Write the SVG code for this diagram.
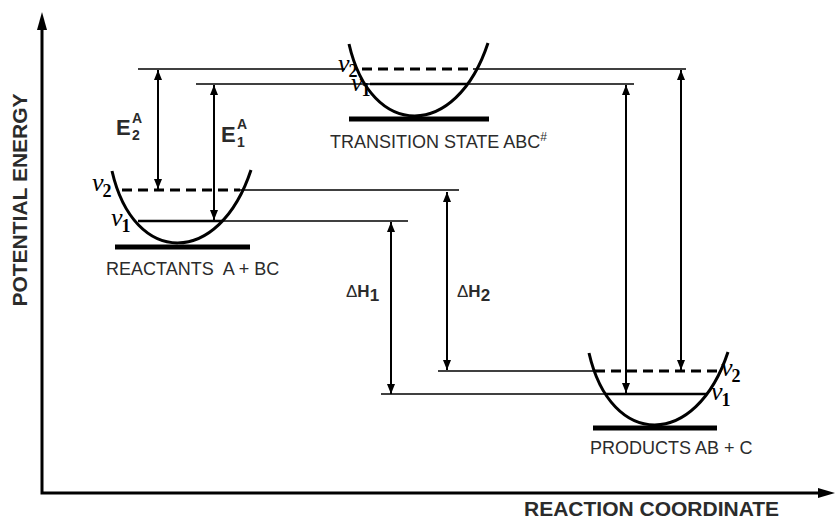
<svg xmlns="http://www.w3.org/2000/svg" width="836" height="519" viewBox="0 0 836 519">
<style>
.bowl{fill:none;stroke:#000;stroke-width:3}
.base{stroke:#000;stroke-width:5}
.lvl{stroke:#000;stroke-width:1.5}
.v1{stroke:#000;stroke-width:2.5}
.v2{stroke:#000;stroke-width:3;stroke-dasharray:10 6}
.conn{stroke:#000;stroke-width:2;fill:none;marker-start:url(#ah);marker-end:url(#ah)}
.axis{stroke:#000;stroke-width:3;fill:none}
.lbl{font-family:"Liberation Sans",Arial,sans-serif;font-size:18px;fill:#2b2b2b;white-space:pre}
.ax{font-family:"Liberation Sans",Arial,sans-serif;font-size:21px;font-weight:bold;fill:#2b2b2b}
.nu{font-family:"Liberation Serif","Times New Roman",serif;font-size:26px;font-style:italic;fill:#000}
.sub{font-family:"Liberation Serif","Times New Roman",serif;font-size:18px;font-weight:bold;fill:#000}
.e{font-family:"Liberation Sans",Arial,sans-serif;font-weight:bold;fill:#2b2b2b}
</style>
<defs>
<marker id="ah" markerUnits="userSpaceOnUse" markerWidth="12" markerHeight="10" refX="10" refY="4" orient="auto-start-reverse">
<path d="M0,0 L10,4 L0,8 Z" fill="#000"/>
</marker>
<path id="bowl" class="bowl" d="M-66,-72 C-44,24 41,24 73,-73"/>
</defs>

<g id="axes">
<path class="axis" d="M42,28 V493 H820"/>
<path d="M42,12 L37,30 L47,30 Z" fill="#000"/>
<path d="M835,493 L818,488 L818,498 Z" fill="#000"/>
<text class="ax" transform="translate(27,200) rotate(-90)" text-anchor="middle" font-size="22">POTENTIAL ENERGY</text>
<text class="ax" x="524" y="516">REACTION COORDINATE</text>
</g>

<g id="reactants">
<use href="#bowl" x="178" y="243"/>
<line class="base" x1="115" y1="247" x2="250" y2="247"/>
<line class="v2" x1="122" y1="190" x2="240" y2="190"/>
<line class="v1" x1="138" y1="221" x2="222" y2="221"/>
<line class="lvl" x1="240" y1="190" x2="459" y2="190"/>
<line class="lvl" x1="222" y1="221" x2="408" y2="221"/>
<text x="92" y="191"><tspan class="nu">ν</tspan><tspan class="sub" dx="-1" dy="6">2</tspan></text>
<text x="111" y="226"><tspan class="nu">ν</tspan><tspan class="sub" dx="-1" dy="6">1</tspan></text>
<text class="lbl" x="106" y="275" xml:space="preserve">REACTANTS  A + BC</text>
</g>

<g id="transition">
<use href="#bowl" x="415" y="116"/>
<line class="base" x1="349" y1="119" x2="489" y2="119"/>
<line class="lvl" x1="138" y1="69" x2="345" y2="69"/>
<line class="v2" x1="362" y1="69" x2="473" y2="69"/>
<line class="lvl" x1="473" y1="69" x2="686" y2="69"/>
<line class="lvl" x1="196" y1="84" x2="370" y2="84"/>
<line class="v1" x1="370" y1="84" x2="467" y2="84"/>
<line class="lvl" x1="467" y1="84" x2="634" y2="84"/>
<text x="338" y="72"><tspan class="nu" font-size="25">ν</tspan><tspan class="sub" dx="-1" dy="5">2</tspan></text>
<text x="351" y="91"><tspan class="nu" font-size="25">ν</tspan><tspan class="sub" dx="-1" dy="5">1</tspan></text>
<text class="lbl" x="330" y="148">TRANSITION STATE ABC<tspan font-size="12" dy="-7">#</tspan></text>
</g>

<g id="products">
<use href="#bowl" x="655" y="425"/>
<line class="base" x1="593" y1="428" x2="717" y2="428"/>
<line class="lvl" x1="438" y1="371" x2="595" y2="371"/>
<line class="v2" x1="595" y1="371" x2="718" y2="371"/>
<line class="lvl" x1="381" y1="394" x2="605" y2="394"/>
<line class="v1" x1="605" y1="394" x2="707" y2="394"/>
<text x="721" y="376"><tspan class="nu">ν</tspan><tspan class="sub" dx="-1" dy="6">2</tspan></text>
<text x="711" y="400"><tspan class="nu">ν</tspan><tspan class="sub" dx="-1" dy="6">1</tspan></text>
<text class="lbl" x="590" y="454">PRODUCTS AB + C</text>
</g>

<g id="connectors">
<line class="conn" x1="158" y1="70" x2="158" y2="189"/>
<line class="conn" x1="214" y1="85" x2="214" y2="220"/>
<line class="conn" x1="391" y1="222" x2="391" y2="394"/>
<line class="conn" x1="447" y1="192" x2="447" y2="370"/>
<line class="conn" x1="626" y1="85" x2="626" y2="393"/>
<line class="conn" x1="681" y1="70" x2="681" y2="370"/>
</g>

<g id="labels">
<text class="e" x="116" y="135" font-size="22">E</text>
<text class="e" x="132" y="123" font-size="14">A</text>
<text class="e" x="132" y="140" font-size="14">2</text>
<text class="e" x="221" y="142" font-size="22">E</text>
<text class="e" x="237" y="129" font-size="14">A</text>
<text class="e" x="237" y="147" font-size="14">1</text>
<text class="e" x="346" y="297" font-size="17"><tspan font-weight="normal">Δ</tspan>H<tspan dy="4">1</tspan></text>
<text class="e" x="457" y="297" font-size="17"><tspan font-weight="normal">Δ</tspan>H<tspan dy="4">2</tspan></text>
</g>
</svg>
